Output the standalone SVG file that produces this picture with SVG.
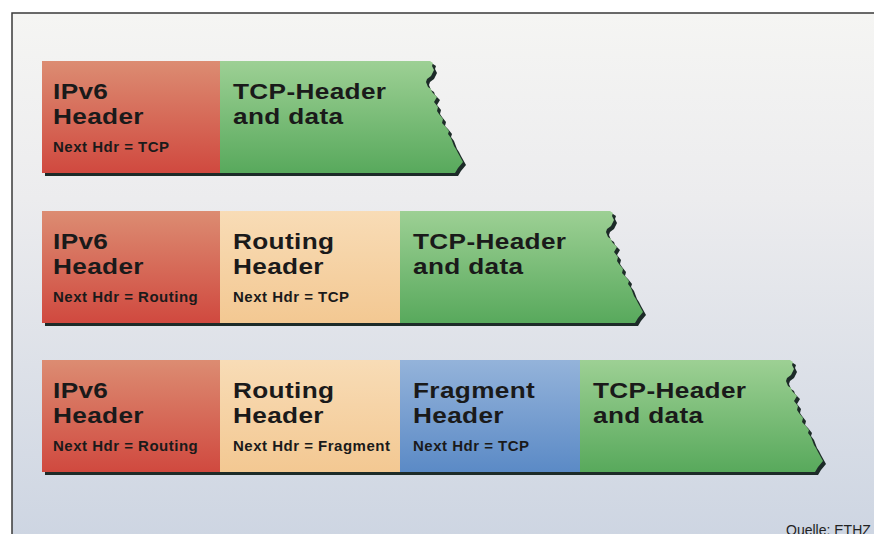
<svg xmlns="http://www.w3.org/2000/svg" width="874" height="534" viewBox="0 0 874 534">
<defs>
<linearGradient id="bg" x1="0" y1="0" x2="0" y2="1"><stop offset="0" stop-color="#f5f5f3"/><stop offset="0.35" stop-color="#ececee"/><stop offset="1" stop-color="#cdd5e2"/></linearGradient>
<linearGradient id="red" x1="0" y1="0" x2="0" y2="1"><stop offset="0" stop-color="#dc8c72"/><stop offset="1" stop-color="#d0493f"/></linearGradient>
<linearGradient id="beige" x1="0" y1="0" x2="0" y2="1"><stop offset="0" stop-color="#f8dcb6"/><stop offset="1" stop-color="#f3c892"/></linearGradient>
<linearGradient id="blue" x1="0" y1="0" x2="0" y2="1"><stop offset="0" stop-color="#94b3da"/><stop offset="1" stop-color="#5b8ac6"/></linearGradient>
<linearGradient id="green" x1="0" y1="0" x2="0" y2="1"><stop offset="0" stop-color="#9dd094"/><stop offset="1" stop-color="#58a95c"/></linearGradient>
<path id="torn" d="M0,0 H210 L213,2 L212,5 L214,9 L211,15 L207,18 L206,21 L208,26 L211,28 L212,31 L217,36 L214,41 L218,46 L217,50 L219,53 L223,58 L222,62 L225,65 L229,70 L228,73 L231,77 L234,85 L236,88 L238,92 L243,101 L238,107 L235,112 L0,112 Z"/>
<style>
.t{font-family:"Liberation Sans",Arial,sans-serif;font-weight:bold;fill:#1a1a1a;font-size:22.4px;letter-spacing:0.3px}
.s{font-family:"Liberation Sans",Arial,sans-serif;font-weight:bold;fill:#1a1a1a;font-size:15px;letter-spacing:0.5px}
.sh{fill:#1d2b28}
</style>
</defs>
<rect x="0" y="0" width="874" height="534" fill="#ffffff"/>
<rect x="12" y="13" width="870" height="530" fill="url(#bg)" stroke="#3a3a3a" stroke-width="1.5"/>

<g id="shadows">
<rect class="sh" x="45" y="64" width="180" height="112"/>
<use href="#torn" class="sh" transform="translate(223,64)"/>
<rect class="sh" x="45" y="214" width="360" height="112"/>
<use href="#torn" class="sh" transform="translate(403,214)"/>
<rect class="sh" x="45" y="363" width="540" height="112"/>
<use href="#torn" class="sh" transform="translate(583,363)"/>
</g>

<g id="row1-ipv6">
<rect x="42" y="61" width="178" height="112" fill="url(#red)"/>
<text class="t" transform="translate(53 99) scale(1.17 1)">IPv6</text>
<text class="t" transform="translate(53 124) scale(1.17 1)">Header</text>
<text class="s" x="53" y="152">Next Hdr = TCP</text>
</g>
<g id="row1-tcp">
<use href="#torn" fill="url(#green)" transform="translate(220,61)"/>
<text class="t" transform="translate(233 99) scale(1.17 1)">TCP-Header</text>
<text class="t" transform="translate(233 124) scale(1.17 1)">and data</text>
</g>

<g id="row2-ipv6">
<rect x="42" y="211" width="178" height="112" fill="url(#red)"/>
<text class="t" transform="translate(53 249) scale(1.17 1)">IPv6</text>
<text class="t" transform="translate(53 274) scale(1.17 1)">Header</text>
<text class="s" x="53" y="302">Next Hdr = Routing</text>
</g>
<g id="row2-routing">
<rect x="220" y="211" width="180" height="112" fill="url(#beige)"/>
<text class="t" transform="translate(233 249) scale(1.17 1)">Routing</text>
<text class="t" transform="translate(233 274) scale(1.17 1)">Header</text>
<text class="s" x="233" y="302">Next Hdr = TCP</text>
</g>
<g id="row2-tcp">
<use href="#torn" fill="url(#green)" transform="translate(400,211)"/>
<text class="t" transform="translate(413 249) scale(1.17 1)">TCP-Header</text>
<text class="t" transform="translate(413 274) scale(1.17 1)">and data</text>
</g>

<g id="row3-ipv6">
<rect x="42" y="360" width="178" height="112" fill="url(#red)"/>
<text class="t" transform="translate(53 398) scale(1.17 1)">IPv6</text>
<text class="t" transform="translate(53 423) scale(1.17 1)">Header</text>
<text class="s" x="53" y="451">Next Hdr = Routing</text>
</g>
<g id="row3-routing">
<rect x="220" y="360" width="180" height="112" fill="url(#beige)"/>
<text class="t" transform="translate(233 398) scale(1.17 1)">Routing</text>
<text class="t" transform="translate(233 423) scale(1.17 1)">Header</text>
<text class="s" x="233" y="451">Next Hdr = Fragment</text>
</g>
<g id="row3-fragment">
<rect x="400" y="360" width="180" height="112" fill="url(#blue)"/>
<text class="t" transform="translate(413 398) scale(1.17 1)">Fragment</text>
<text class="t" transform="translate(413 423) scale(1.17 1)">Header</text>
<text class="s" x="413" y="451">Next Hdr = TCP</text>
</g>
<g id="row3-tcp">
<use href="#torn" fill="url(#green)" transform="translate(580,360)"/>
<text class="t" transform="translate(593 398) scale(1.17 1)">TCP-Header</text>
<text class="t" transform="translate(593 423) scale(1.17 1)">and data</text>
</g>

<text x="786" y="535" font-family="'Liberation Sans',Arial,sans-serif" font-size="14" fill="#222">Quelle: ETHZ</text>
</svg>
